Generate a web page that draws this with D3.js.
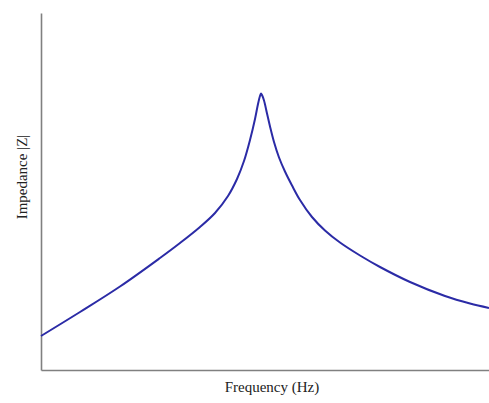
<!DOCTYPE html>
<html>
<head>
<meta charset="utf-8">
<script src="https://cdn.jsdelivr.net/npm/d3@7"></script>
<style>
  body { margin: 0; background: #fff; }
  text { font-family: "Liberation Serif", "Times New Roman", serif; fill: #222; }
</style>
</head>
<body>
<div id="chart"></div>
<script>
// frequency (arbitrary units, 0-100) and |Z| (arbitrary units, 0-100)
const frequency = [0, 8.71, 17.63, 26.56, 31.03, 35.49, 38.84, 41.74, 43.75, 45.31, 46.65, 47.77, 48.44, 48.88, 49.11,
                   49.33, 49.78, 50.45, 51.12, 52.01, 53.13, 54.46, 56.03, 57.81, 60.49, 63.39, 66.74, 71.21,
                   75.67, 82.37, 90.18, 95.76, 100];
const impedance = [9.52, 16.25, 23.39, 31.37, 35.57, 40.06, 43.98, 48.74, 53.50, 58.54, 64.43, 70.31, 74.51, 76.75, 77.45,
                   77.03, 75.49, 71.85, 68.21, 63.87, 59.52, 55.60, 51.68, 47.62, 42.86, 39.08, 35.71, 32.07,
                   28.85, 24.65, 20.73, 18.63, 17.39];
const xLabel = "Frequency (Hz)";
const yLabel = "Impedance |Z|";

const margin = { top: 13, right: 0, bottom: 33, left: 41 };
const width = 489 - margin.left - margin.right;
const height = 403 - margin.top - margin.bottom;

const svg = d3.select("#chart")
    .append("svg")
    .attr("width", 489)
    .attr("height", 403)
    .append("g")
    .attr("transform", `translate(${margin.left},${margin.top})`);

const x = d3.scaleLinear().domain([0, 100]).range([0, width]);
const y = d3.scaleLinear().domain([0, 100]).range([height, 0]);

// axes without ticks, just the lines
svg.append("g")
    .attr("transform", `translate(0,${height})`)
    .call(d3.axisBottom(x).ticks(0).tickSizeOuter(0))
    .select(".domain")
    .attr("stroke", "#808080")
    .attr("stroke-width", 1.6);

svg.append("g")
    .call(d3.axisLeft(y).ticks(0).tickSizeOuter(0))
    .select(".domain")
    .attr("stroke", "#808080")
    .attr("stroke-width", 1.6);

const points = frequency.map((f, i) => ({ f, z: impedance[i] }));

const line = d3.line()
    .x(d => x(d.f))
    .y(d => y(d.z))
    .curve(d3.curveCatmullRom.alpha(0.5));

svg.append("path")
    .datum(points)
    .attr("fill", "none")
    .attr("stroke", "#2b2ba6")
    .attr("stroke-width", 2)
    .attr("d", line);

svg.append("text")
    .attr("x", 231)
    .attr("y", height + 22)
    .attr("text-anchor", "middle")
    .style("font-size", "15px")
    .text(xLabel);

svg.append("text")
    .attr("transform", `translate(-19,${164}) rotate(-90)`)
    .attr("text-anchor", "middle")
    .attr("dy", "0.35em")
    .style("font-size", "15px")
    .text(yLabel);
</script>
</body>
</html>
